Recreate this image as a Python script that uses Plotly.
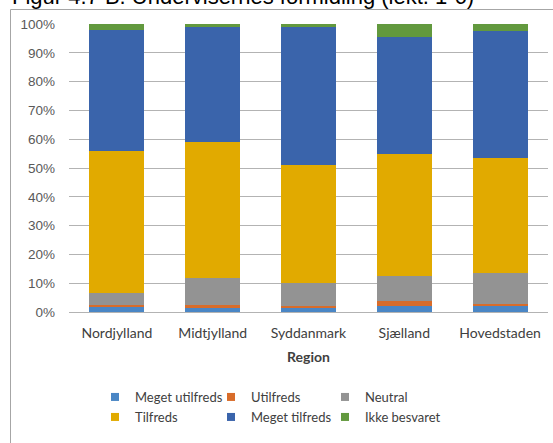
import plotly.graph_objects as go

regions = ["Nordjylland", "Midtjylland", "Syddanmark", "Sjælland", "Hovedstaden"]

meget_utilfreds = [1.6, 1.5, 1.7, 2.1, 2.0]
utilfreds = [0.7, 0.8, 0.4, 1.6, 0.9]
neutral = [4.4, 9.6, 7.9, 8.8, 10.5]
tilfreds = [49.2, 47.1, 41.2, 42.3, 40.1]
meget_tilfreds = [42.1, 40.0, 47.8, 40.8, 44.0]
ikke_besvaret = [2.0, 1.0, 1.0, 4.4, 2.5]

series = [
    ("Meget utilfreds", meget_utilfreds, "#4a86c5"),
    ("Utilfreds", utilfreds, "#d86c2a"),
    ("Neutral", neutral, "#939393"),
    ("Tilfreds", tilfreds, "#e1aa00"),
    ("Meget tilfreds", meget_tilfreds, "#3a64ab"),
    ("Ikke besvaret", ikke_besvaret, "#62993e"),
]

W, H = 553, 443
L, R, T, B = 69, 5, 24, 131
pw, ph = W - L - R, H - T - B

# legend grid: 3 columns x 2 rows (pixel positions of text start / row centre)
col_x = [135, 251, 365]
row_y = [397, 417]

fig = go.Figure()
for name, vals, col in series:
    fig.add_bar(x=regions, y=vals, name=name, marker_color=col,
                marker_line_width=0, showlegend=False)

legends = {}
for i, (name, vals, col) in enumerate(series):
    key = "legend" if i == 0 else f"legend{i + 1}"
    # small square legend keys, one legend per slot
    fig.add_scatter(x=[None], y=[None], mode="markers", name=name,
                    marker=dict(symbol="square", size=8, color=col),
                    legend=key)
    legends[key] = dict(
        xref="container", yref="container",
        x=(col_x[i % 3] - 40) / W, y=1 - row_y[i // 3] / H,
        xanchor="left", yanchor="middle",
        bgcolor="rgba(0,0,0,0)",
        font=dict(family="Lato", size=13, color="#404040"),
    )

fig.update_layout(
    width=W, height=H,
    barmode="stack", bargap=0.425,
    margin=dict(l=L, r=R, t=T, b=B, autoexpand=False),
    paper_bgcolor="white", plot_bgcolor="white",
    xaxis=dict(
        tickfont=dict(family="Lato", size=14, color="#404040"),
        title=dict(text="<b>Region</b>", standoff=12,
                   font=dict(family="Lato", size=14, color="#404040")),
        showline=False, ticks="", ticklabelstandoff=11,
    ),
    yaxis=dict(
        range=[0, 100], dtick=10, ticksuffix="%",
        tickfont=dict(family="Liberation Sans", size=13.5, color="#595959"),
        gridcolor="#b3b3b3", gridwidth=1, zeroline=True,
        zerolinecolor="#b3b3b3", zerolinewidth=1,
        ticks="", ticklabelstandoff=13, showline=False,
    ),
    shapes=[dict(type="rect", xref="paper", yref="paper",
                 x0=(10.5 - L) / pw, x1=1.1,
                 y0=-0.6, y1=1 + (T - 9.5) / ph,
                 line=dict(color="#a6a6a6", width=1), layer="below")],
    annotations=[dict(text="Figur 4.7 B. Undervisernes formidling (lekt. 1-6)",
                      xref="paper", yref="paper",
                      x=(10 - L) / pw, y=1 + (T - 11) / ph,
                      xanchor="left", yanchor="bottom", showarrow=False,
                      font=dict(family="Liberation Sans", size=22, color="black"))],
    **legends,
)

fig.write_html("out.html", config={"displayModeBar": False},
               post_script="document.body.style.margin='0';")
